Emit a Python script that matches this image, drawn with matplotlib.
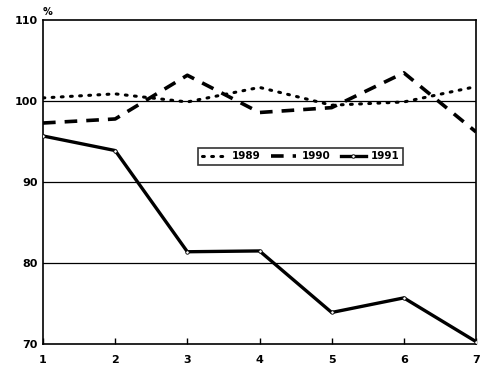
import matplotlib
matplotlib.use("Agg")
import matplotlib.pyplot as plt

x = [1, 2, 3, 4, 5, 6, 7]
s1989 = [100.4, 100.9, 99.9, 101.7, 99.5, 99.9, 101.8]
s1990 = [97.3, 97.8, 103.2, 98.6, 99.2, 103.5, 96.2]
s1991 = [95.7, 93.9, 81.4, 81.5, 73.9, 75.7, 70.3]
labels = ["1989", "1990", "1991"]
yticks = [70, 80, 90, 100, 110]

fig = plt.figure(figsize=(5, 3.81), dpi=100)
ax = fig.add_axes([0.086, 0.097, 0.866, 0.85])

for g in [80, 90, 100]:
    ax.axhline(g, color="black", lw=0.9, zorder=1)

ax.plot(x, s1989, color="black", lw=2.2, linestyle=(0, (0.6, 2.4)),
        dash_capstyle="round", label=labels[0], zorder=3)
ax.plot(x, s1990, color="black", lw=2.6, linestyle=(0, (3.5, 2.5)),
        label=labels[1], zorder=3)
ax.plot(x, s1991, color="black", lw=2.4, marker="o", ms=2.5,
        mfc="white", mec="black", mew=0.6, label=labels[2], zorder=3)

ax.set_xlim(1, 7)
ax.set_ylim(70, 110)
ax.set_xticks(x)
ax.set_yticks(yticks)
ax.tick_params(axis="x", direction="in", length=4, width=1, pad=8, labelsize=8)
ax.tick_params(axis="y", length=0, pad=4, labelsize=8)
for lab in ax.get_xticklabels() + ax.get_yticklabels():
    lab.set_fontweight("bold")
for sp in ax.spines.values():
    sp.set_linewidth(1.2)

ax.text(0.0, 1.01, "%", transform=ax.transAxes, fontsize=7, fontweight="bold",
        ha="left", va="bottom")

leg = ax.legend(loc="center", bbox_to_anchor=(0.595, 0.58), ncol=3, frameon=True,
                fancybox=False, edgecolor="black", fontsize=7.5,
                handlelength=2.4, columnspacing=1.0, handletextpad=0.5,
                borderpad=0.35, borderaxespad=0)
leg.get_frame().set_linewidth(1.2)
for t in leg.get_texts():
    t.set_fontweight("bold")

fig.savefig("out.png", dpi=100, facecolor="white")
